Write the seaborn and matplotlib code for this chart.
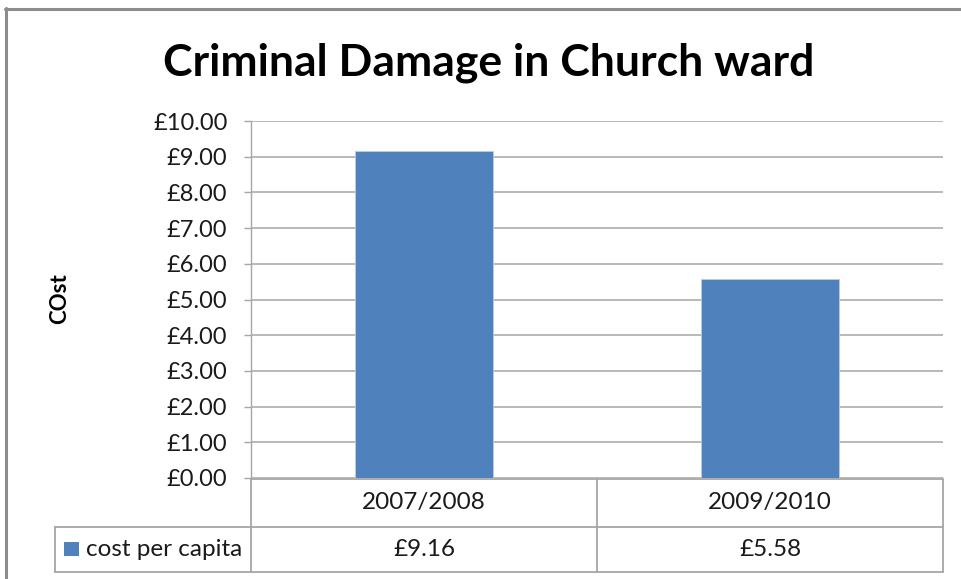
import matplotlib
matplotlib.use("Agg")
import matplotlib.pyplot as plt
import matplotlib.transforms as mtransforms
import seaborn as sns
import pandas as pd
from matplotlib.lines import Line2D
from matplotlib.patches import Rectangle

categories = ["2007/2008", "2009/2010"]
values = [9.16, 5.58]
series_name = "cost per capita"
y_ticks = [0, 1, 2, 3, 4, 5, 6, 7, 8, 9, 10]
title = "Criminal Damage in Church ward"
y_label = "COst"

sns.set_theme(style="white")
plt.rcParams["font.family"] = ["Lato", "DejaVu Sans"]

W, H = 962, 579
fig = plt.figure(figsize=(W / 100, H / 100), dpi=100)
fig.patch.set_facecolor("white")

def fx(x):
    return x / W

def fy(y):
    return 1 - y / H

# axes in pixel layout
L, R, T, B = 251, 943, 121, 478
ax = fig.add_axes([fx(L), fy(B), (R - L) / W, (B - T) / H])

df = pd.DataFrame({"year": categories, "cost": values})
sns.barplot(data=df, x="year", y="cost", color="#4F81BD", saturation=1,
            width=0.4, ax=ax, edgecolor="#B9CDE5", linewidth=0.6)

ax.set_xlim(-0.5, len(categories) - 0.5)
ax.set_ylim(0, 10)
ax.set_yticks(y_ticks)
ax.set_yticklabels([f"£{v:.2f}" for v in y_ticks], fontsize=17, color="#1a1a1a")
ax.set_xticks([])
ax.set_xlabel("")
ax.set_ylabel("")
ax.yaxis.grid(True, color="#A6A6A6", linewidth=1.1)
ax.set_axisbelow(True)
for s in ["top", "right", "bottom"]:
    ax.spines[s].set_visible(False)
ax.spines["left"].set_color("#A6A6A6")
ax.spines["left"].set_linewidth(1.0)
ax.tick_params(axis="y", left=True, length=5, width=1.0, color="#A6A6A6", pad=12)

# title and y label
fig.text(fx(489), fy(63), title, ha="center", va="center", fontsize=32,
         fontweight="bold", color="black")
fig.text(fx(60), fy(299), y_label, ha="center", va="center", fontsize=16,
         fontweight="bold", rotation=90, color="black")

# data table
gc = "#A6A6A6"
def hline(x0, x1, y):
    fig.add_artist(Line2D([fx(x0), fx(x1)], [fy(y), fy(y)], color=gc, lw=1.3))

def vline(x, y0, y1):
    fig.add_artist(Line2D([fx(x), fx(x)], [fy(y0), fy(y1)], color=gc, lw=1.3))

hline(L, R, 479)
hline(55, R, 527)
hline(55, R, 572)
vline(L, 479, 572)
vline(597, 479, 572)
vline(R, 479, 572)
vline(55, 527, 572)

trans_hdr = mtransforms.blended_transform_factory(ax.transData, fig.transFigure)
for i, (c, v) in enumerate(zip(categories, values)):
    ax.text(i, fy(503), c, transform=trans_hdr, ha="center", va="center",
            fontsize=17.5, color="#1a1a1a", clip_on=False)
    ax.text(i, fy(550), f"£{v:.2f}", transform=trans_hdr, ha="center",
            va="center", fontsize=17.5, color="#1a1a1a", clip_on=False)

# legend key in table
fig.add_artist(Rectangle((fx(64), fy(556)), 15 / W, 14 / H, facecolor="#4F81BD",
                         edgecolor="none", transform=fig.transFigure))
fig.text(fx(86), fy(549), series_name, ha="left", va="center", fontsize=17.5,
         color="#1a1a1a")

# outer chart frame
fig.add_artist(Line2D([fx(5), fx(W + 5)], [fy(9), fy(9)], color="#8C8C8C", lw=2.2))
fig.add_artist(Line2D([fx(6), fx(6)], [fy(8), fy(H + 5)], color="#8C8C8C", lw=2.2))

fig.savefig("out.png", dpi=100, facecolor="white")
